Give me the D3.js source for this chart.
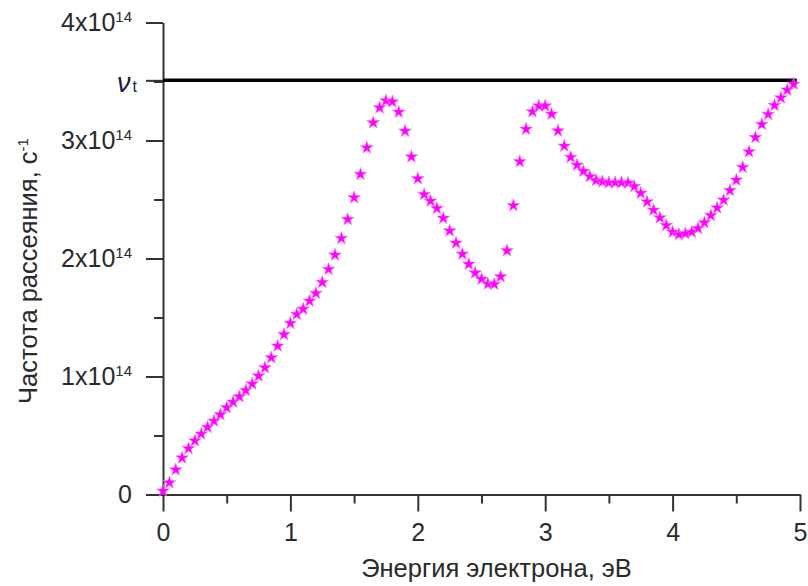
<!DOCTYPE html>
<html>
<head>
<meta charset="utf-8">
<script src="https://cdn.jsdelivr.net/npm/d3@7"></script>
<style>
  html, body { margin: 0; padding: 0; background: #fff; }
  svg { display: block; }
  text { font-family: "Liberation Sans", Arial, sans-serif; }
</style>
</head>
<body>
<svg id="chart" width="808" height="586"></svg>
<script>
// ---- data (scattering rate in units of 1e14 s^-1) ----
const energy = [
  0.00, 0.05, 0.10, 0.15, 0.20, 0.25, 0.30, 0.35, 0.40, 0.45,
  0.50, 0.55, 0.60, 0.65, 0.70, 0.75, 0.80, 0.85, 0.90, 0.95,
  1.00, 1.05, 1.10, 1.15, 1.20, 1.25, 1.30, 1.35, 1.40, 1.45,
  1.50, 1.55, 1.60, 1.65, 1.70, 1.75, 1.80, 1.85, 1.90, 1.95,
  2.00, 2.05, 2.10, 2.15, 2.20, 2.25, 2.30, 2.35, 2.40, 2.45,
  2.50, 2.55, 2.60, 2.65, 2.70, 2.75, 2.80, 2.85, 2.90, 2.95,
  3.00, 3.05, 3.10, 3.15, 3.20, 3.25, 3.30, 3.35, 3.40, 3.45,
  3.50, 3.55, 3.60, 3.65, 3.70, 3.75, 3.80, 3.85, 3.90, 3.95,
  4.00, 4.05, 4.10, 4.15, 4.20, 4.25, 4.30, 4.35, 4.40, 4.45,
  4.50, 4.55, 4.60, 4.65, 4.70, 4.75, 4.80, 4.85, 4.90, 4.95
];
const rate = [
  0.03, 0.10, 0.21, 0.31, 0.39, 0.456, 0.513, 0.57, 0.623, 0.677,
  0.736, 0.784, 0.829, 0.883, 0.937, 1.005, 1.075, 1.16, 1.259, 1.357,
  1.451, 1.527, 1.572, 1.64, 1.705, 1.798, 1.909, 2.03, 2.171, 2.332,
  2.516, 2.714, 2.939, 3.151, 3.278, 3.337, 3.328, 3.241, 3.08, 2.862,
  2.677, 2.543, 2.487, 2.425, 2.342, 2.235, 2.131, 2.038, 1.952, 1.878,
  1.825, 1.786, 1.782, 1.846, 2.067, 2.449, 2.821, 3.096, 3.244, 3.293,
  3.293, 3.224, 3.082, 2.953, 2.858, 2.792, 2.74, 2.695, 2.662, 2.651,
  2.643, 2.643, 2.643, 2.64, 2.611, 2.554, 2.481, 2.411, 2.345, 2.281,
  2.224, 2.204, 2.211, 2.224, 2.255, 2.304, 2.365, 2.429, 2.496, 2.577,
  2.665, 2.773, 2.905, 3.026, 3.137, 3.222, 3.298, 3.362, 3.428, 3.478
];
const nuT = 3.51;                 // threshold frequency, 1e14 s^-1
const nuTSpan = [0, 4.975];       // energy extent of the threshold line
const xTicks = [0, 1, 2, 3, 4, 5];
const xMinorTicks = [0.5, 1.5, 2.5, 3.5, 4.5];
const yTicks = [0, 1, 2, 3, 4];
const yMinorTicks = [0.5, 1.5, 2.5, 3.5];
const yTickMantissa = ["0", "1x10", "2x10", "3x10", "4x10"];
const yTickExponent = "14";
const xTitle = "Энергия электрона, эВ";
const yTitle = "Частота рассеяния, с";
const yTitleExp = "-1";

// ---- drawing ----
const svg = d3.select("#chart");
const x = d3.scaleLinear().domain([0, 5]).range([163, 800]);
const y = d3.scaleLinear().domain([0, 4]).range([494.5, 22.5]);
const axisColor = "#333";
const textColor = "#2a2a2a";

// x axis
const gx = svg.append("g").attr("transform", `translate(0,${y(0)})`)
  .call(d3.axisBottom(x).tickValues(xTicks).tickSize(17).tickSizeOuter(0).tickPadding(12).tickFormat(d3.format("d")));
const gxMinor = svg.append("g").attr("transform", `translate(0,${y(0)})`)
  .call(d3.axisBottom(x).tickValues(xMinorTicks).tickSize(9).tickSizeOuter(0).tickFormat(""));
gxMinor.select(".domain").remove();

// y axis
const gy = svg.append("g").attr("transform", `translate(${x(0)},0)`)
  .call(d3.axisLeft(y).tickValues(yTicks).tickSize(17).tickSizeOuter(0).tickPadding(14));
const gyMinor = svg.append("g").attr("transform", `translate(${x(0)},0)`)
  .call(d3.axisLeft(y).tickValues(yMinorTicks).tickSize(9).tickSizeOuter(0).tickFormat(""));
gyMinor.select(".domain").remove();
// extra tick at nu_t
const gyNu = svg.append("g").attr("transform", `translate(${x(0)},0)`)
  .call(d3.axisLeft(y).tickValues([nuT]).tickSize(17).tickSizeOuter(0).tickFormat(""));
gyNu.select(".domain").remove();

[gx, gxMinor, gy, gyMinor, gyNu].forEach(g => {
  g.selectAll(".domain, .tick line").attr("stroke", axisColor).attr("stroke-width", 2);
  g.selectAll("text").attr("fill", textColor).attr("font-size", 25)
    .attr("font-family", '"Liberation Sans", Arial, sans-serif');
});

gy.selectAll(".tick text").each(function(d) {
  const t = d3.select(this);
  t.text(null);
  t.append("tspan").text(yTickMantissa[yTicks.indexOf(d)]);
  if (d !== 0) {
    t.append("tspan").attr("font-size", 15).attr("dy", "-0.6em").text(yTickExponent);
  }
});

// threshold line
svg.append("line")
  .attr("x1", x(nuTSpan[0])).attr("x2", x(nuTSpan[1]))
  .attr("y1", y(nuT)).attr("y2", y(nuT))
  .attr("stroke", "#000").attr("stroke-width", 3.5);

const nuLabel = svg.append("text")
  .attr("x", x(0) - 26).attr("y", y(nuT) + 12)
  .attr("text-anchor", "end").attr("fill", "#1c1c3c")
  .attr("font-family", '"DejaVu Serif", "Liberation Serif", serif');
nuLabel.append("tspan").attr("font-style", "italic").attr("font-size", 27).text("ν");
nuLabel.append("tspan").attr("font-size", 16).attr("dx", 2).text("t");

// data points (stars)
const star = d3.symbol(d3.symbolStar, 50);
svg.append("g").selectAll("path")
  .data(d3.zip(energy, rate))
  .join("path")
  .attr("d", star)
  .attr("transform", d => `translate(${x(d[0])},${y(d[1])})`)
  .attr("fill", "#ff00ff")
  .attr("stroke", "#ff66ff").attr("stroke-width", 0.6);

// axis titles
svg.append("text")
  .attr("x", (x(0) + x(5)) / 2 + 15).attr("y", 577)
  .attr("text-anchor", "middle").attr("fill", textColor).attr("font-size", 25.5)
  .text(xTitle);

const yt = svg.append("text")
  .attr("transform", `translate(37,${271}) rotate(-90)`)
  .attr("text-anchor", "middle").attr("fill", textColor).attr("font-size", 25.5);
yt.append("tspan").text(yTitle);
yt.append("tspan").attr("font-size", 15).attr("dy", "-0.6em").text(yTitleExp);
</script>
</body>
</html>
